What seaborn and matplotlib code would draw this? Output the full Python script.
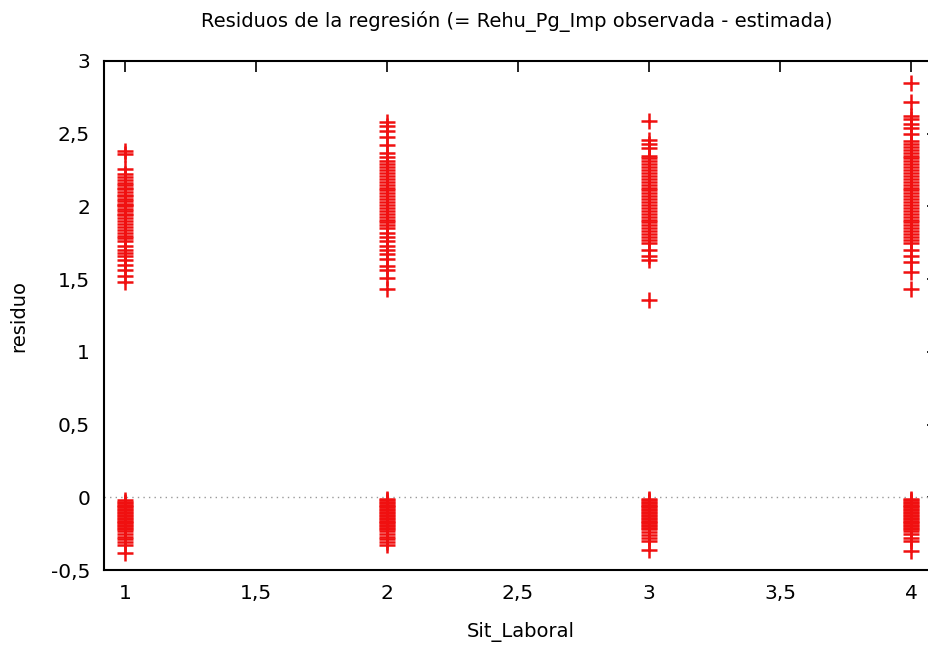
import numpy as np
import pandas as pd
import matplotlib
matplotlib.use('Agg')
import matplotlib.pyplot as plt
import seaborn as sns
from matplotlib.ticker import FuncFormatter, MultipleLocator

# residuals, per Sit_Laboral category
res_1 = [2.38, 2.36, 2.26, 2.22, 2.20, 2.18, 2.16, 2.15, 2.13, 2.12, 2.10, 2.08, 2.07,
         2.05, 2.04, 2.02, 2.01, 2.00, 1.98, 1.97, 1.95, 1.94, 1.92, 1.90, 1.88, 1.86,
         1.84, 1.82, 1.80, 1.78, 1.76, 1.73, 1.70, 1.68, 1.66, 1.63, 1.60, 1.56, 1.52, 1.48,
         -0.02, -0.03, -0.04, -0.05, -0.06, -0.07, -0.08, -0.09, -0.10, -0.11, -0.12, -0.13,
         -0.14, -0.15, -0.16, -0.17, -0.18, -0.19, -0.20, -0.21, -0.22, -0.23, -0.25,
         -0.27, -0.29, -0.31, -0.33, -0.38]
res_2 = [2.58, 2.55, 2.52, 2.48, 2.42, 2.37, 2.34, 2.31, 2.29, 2.27, 2.25, 2.23, 2.21,
         2.19, 2.17, 2.15, 2.13, 2.11, 2.09, 2.07, 2.05, 2.03, 2.01, 1.99, 1.97, 1.95,
         1.93, 1.91, 1.89, 1.87, 1.85, 1.82, 1.79, 1.76, 1.73, 1.70, 1.67, 1.64, 1.59,
         1.56, 1.51, 1.43,
         -0.01, -0.02, -0.03, -0.04, -0.05, -0.06, -0.07, -0.08, -0.09, -0.10, -0.11,
         -0.12, -0.13, -0.14, -0.15, -0.16, -0.17, -0.18, -0.19, -0.20, -0.21, -0.22,
         -0.23, -0.25, -0.27, -0.29, -0.31, -0.33]
res_3 = [2.59, 2.46, 2.43, 2.40, 2.35, 2.33, 2.31, 2.29, 2.27, 2.25, 2.23, 2.21, 2.19,
         2.17, 2.15, 2.13, 2.11, 2.09, 2.07, 2.05, 2.03, 2.01, 1.99, 1.97, 1.95, 1.93,
         1.91, 1.89, 1.87, 1.85, 1.83, 1.81, 1.79, 1.77, 1.75, 1.70, 1.66, 1.63, 1.36,
         -0.01, -0.02, -0.03, -0.04, -0.05, -0.06, -0.07, -0.08, -0.09, -0.10, -0.11,
         -0.12, -0.13, -0.14, -0.15, -0.16, -0.17, -0.18, -0.19, -0.20, -0.21, -0.22,
         -0.24, -0.26, -0.28, -0.30, -0.36]
res_4 = [2.85, 2.72, 2.62, 2.60, 2.57, 2.54, 2.50, 2.45, 2.43, 2.41, 2.39, 2.37, 2.35,
         2.33, 2.31, 2.29, 2.27, 2.25, 2.23, 2.21, 2.19, 2.17, 2.15, 2.13, 2.11, 2.09,
         2.07, 2.05, 2.03, 2.01, 1.99, 1.97, 1.95, 1.93, 1.91, 1.89, 1.87, 1.85, 1.83,
         1.81, 1.79, 1.77, 1.75, 1.70, 1.66, 1.62, 1.55, 1.43,
         -0.01, -0.02, -0.03, -0.04, -0.05, -0.06, -0.07, -0.08, -0.09, -0.10, -0.11,
         -0.12, -0.13, -0.14, -0.15, -0.16, -0.17, -0.18, -0.19, -0.20, -0.21, -0.22,
         -0.23, -0.25, -0.28, -0.30, -0.37]

groups = [1, 2, 3, 4]
residuals = [res_1, res_2, res_3, res_4]

df = pd.DataFrame({
    'Sit_Laboral': np.concatenate([[g] * len(r) for g, r in zip(groups, residuals)]),
    'residuo': np.concatenate(residuals),
})

sns.set_style('white')
plt.rcParams['font.family'] = ['DejaVu Sans']
plt.rcParams['text.color'] = 'black'

fig = plt.figure(figsize=(9.29, 6.52), dpi=100)
# right spine sits just outside the picture, as in the reference
ax = fig.add_axes([104 / 929, 82 / 652, 834 / 929, 509 / 652])

ax.axhline(0, color='#999999', linestyle=(0, (1, 3)), linewidth=1.0, zorder=1)
sns.scatterplot(data=df, x='Sit_Laboral', y='residuo', marker='+', color='#f01010',
                s=130, linewidth=1.8, ax=ax, zorder=3)

ax.set_xlim(0.92, 4.103)
ax.set_ylim(-0.5, 3)
ax.xaxis.set_major_locator(MultipleLocator(0.5))
ax.yaxis.set_major_locator(MultipleLocator(0.5))
fmt = FuncFormatter(lambda v, p: ('%g' % v).replace('.', ','))
ax.xaxis.set_major_formatter(fmt)
ax.yaxis.set_major_formatter(fmt)
ax.tick_params(direction='in', length=8, width=1.2, top=True, right=True,
               labelsize=14.5, pad=10, colors='black')
for sp in ax.spines.values():
    sp.set_color('black')
    sp.set_linewidth(1.5)

ax.set_xlabel('Sit_Laboral', fontsize=14, labelpad=14, color='black')
ax.set_ylabel('residuo', fontsize=14, labelpad=16, color='black')
fig.text(517 / 929, 1 - 22 / 652, 'Residuos de la regresión (= Rehu_Pg_Imp observada - estimada)',
         ha='center', va='center', fontsize=14, color='black')

fig.savefig('out.png', dpi=100)
